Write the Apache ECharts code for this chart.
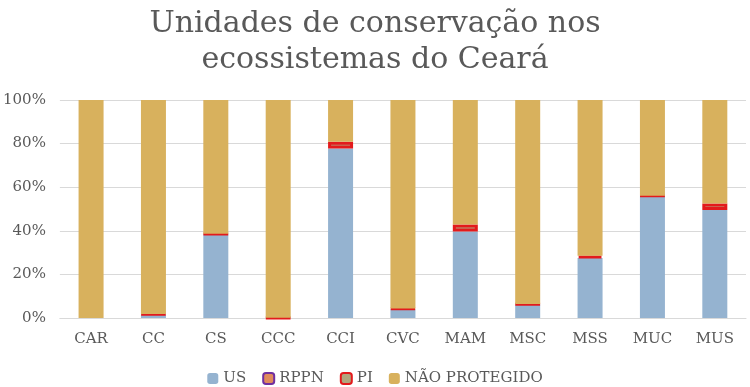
<!DOCTYPE html>
<html>
<head>
<meta charset="utf-8">
<script src="https://cdn.jsdelivr.net/npm/echarts@6/dist/echarts.min.js"></script>
<style>
  html, body { margin: 0; padding: 0; background: #fff; }
  #chart { width: 750px; height: 387px; }
</style>
</head>
<body>
<div id="chart"></div>
<script>
// categorias (ecossistemas)
let categorias = ['CAR', 'CC', 'CS', 'CCC', 'CCI', 'CVC', 'MAM', 'MSC', 'MSS', 'MUC', 'MUS']
// percentuais ('-' = sem valor)
let us = [0, 1.6, 38.5, 0, 77.7, 4.1, 39.7, 6.3, 27.5, 56, 49.5]
let rppn = ['-', '-', '-', '-', '-', '-', '-', '-', '-', '-', '-']
let pi = ['-', 0.2, 0.1, 0.1, 3.2, 0.3, 3.2, 0.1, 1, 0.1, 3]
let naoProtegido = [100, 98.2, 61.4, 99.9, 19.1, 95.6, 57.1, 93.6, 71.5, 43.9, 47.5]
let yTicks = [0, 20, 40, 60, 80, 100]

let fonte = 'DejaVu Serif'
let chart = echarts.init(document.getElementById('chart'))

chart.setOption({
  animation: false,
  title: {
    text: 'Unidades de conservação nos\necossistemas do Ceará',
    left: 'center',
    top: 1,
    textStyle: {
      fontFamily: fonte,
      fontSize: 30,
      fontWeight: 'normal',
      color: '#595959',
      lineHeight: 36
    }
  },
  legend: {
    bottom: -4,
    left: 'center',
    itemWidth: 11,
    itemHeight: 11,
    itemGap: 16,
    textStyle: { fontFamily: fonte, fontSize: 15, color: '#595959' },
    data: ['US', 'RPPN', 'PI', 'NÃO PROTEGIDO']
  },
  grid: {
    left: 56,
    right: 4,
    top: 100,
    bottom: 69
  },
  xAxis: {
    type: 'category',
    data: categorias,
    axisTick: { show: false },
    axisLine: { lineStyle: { color: '#d9d9d9' } },
    axisLabel: { fontFamily: fonte, fontSize: 15, color: '#595959', margin: 14 }
  },
  yAxis: {
    type: 'value',
    min: yTicks[0],
    max: yTicks[yTicks.length - 1],
    interval: 20,
    axisLine: { show: false },
    axisTick: { show: false },
    splitLine: { lineStyle: { color: '#d9d9d9' } },
    axisLabel: {
      fontFamily: fonte,
      fontSize: 15,
      color: '#595959',
      margin: 14,
      formatter: '{value}%'
    }
  },
  series: [{
    name: 'US',
    type: 'bar',
    stack: 'total',
    barWidth: 25,
    itemStyle: { color: '#95b3d0' },
    data: us
  }, {
    name: 'RPPN',
    type: 'bar',
    stack: 'total',
    itemStyle: { color: '#e08a5c', borderColor: '#7030a0', borderWidth: 3 },
    data: rppn
  }, {
    name: 'PI',
    type: 'bar',
    stack: 'total',
    itemStyle: { color: '#b1a67e', borderColor: '#e31a1c', borderWidth: 3 },
    data: pi
  }, {
    name: 'NÃO PROTEGIDO',
    type: 'bar',
    stack: 'total',
    itemStyle: { color: '#d8b15d' },
    data: naoProtegido
  }]
})
</script>
</body>
</html>
